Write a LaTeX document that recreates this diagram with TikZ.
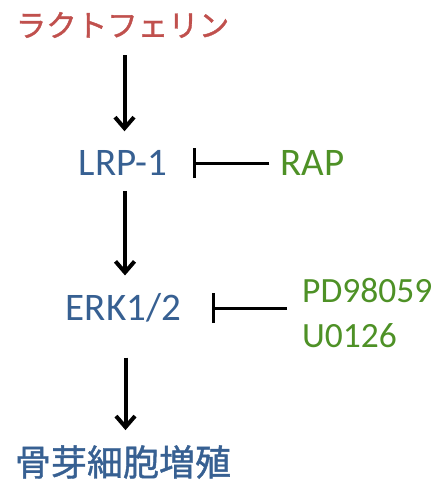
\documentclass[tikz,border=0pt]{standalone}
\usepackage{fontspec}
\setmainfont{Carlito}
\newfontfamily\jpfont[FakeBold=1.2]{Noto Sans CJK JP}
\usetikzlibrary{arrows.meta}
\definecolor{lfred}{HTML}{C0504D}
\definecolor{lfblue}{HTML}{376092}
\definecolor{lfgreen}{RGB}{78,145,38}
\tikzset{
  lbl/.style={inner sep=0pt, anchor=center},
  arr/.style={line width=4pt, -{Straight Barb[length=11pt,width=19pt,line width=4pt]}},
  inhib/.style={line width=3pt, -{Bar[width=30pt,line width=3pt]}},
}
\begin{document}
\begin{tikzpicture}[x=1pt,y=-1pt]
\useasboundingbox (0,0) rectangle (441,480);
\node[lbl, text=lfred, font=\jpfont\fontsize{30.5}{34}\selectfont] (kata) at (122.5,25) {ラクトフェリン};
\node[lbl, text=lfblue, font=\fontsize{39}{45}\selectfont] (lrp) at (123,163) {LRP-1};
\node[lbl, text=lfgreen, font=\fontsize{39}{45}\selectfont] (rap) at (312.5,163) {RAP};
\node[lbl, text=lfblue, font=\fontsize{39}{45}\selectfont] (erk) at (123.5,308) {ERK1/2};
\node[lbl, anchor=north west, text=lfgreen, font=\fontsize{35.5}{45}\selectfont, align=left] (inh) at (302,278) {PD98059\\U0126};
\node[lbl, text=lfblue, font=\jpfont\fontsize{36}{40}\selectfont] (bone) at (123,462) {骨芽細胞増殖};
\draw[arr, shorten <=17pt, shorten >=19pt] ([xshift=2pt]kata.south) -- ([xshift=2pt]kata.south |- lrp.north);
\draw[arr, shorten <=15pt, shorten >=18pt] ([xshift=2pt]lrp.south) -- ([xshift=2pt]lrp.south |- erk.north);
\draw[arr, shorten <=35pt, shorten >=15pt] ([xshift=2pt]erk.south) -- ([xshift=2pt]erk.south |- bone.north);
\draw[inhib, shorten <=11pt, shorten >=26pt] (rap.west) -- (lrp.east |- rap.west);
\draw[inhib, shorten <=15pt, shorten >=31pt] (inh.west |- erk.east) -- (erk.east);
\end{tikzpicture}
\end{document}
